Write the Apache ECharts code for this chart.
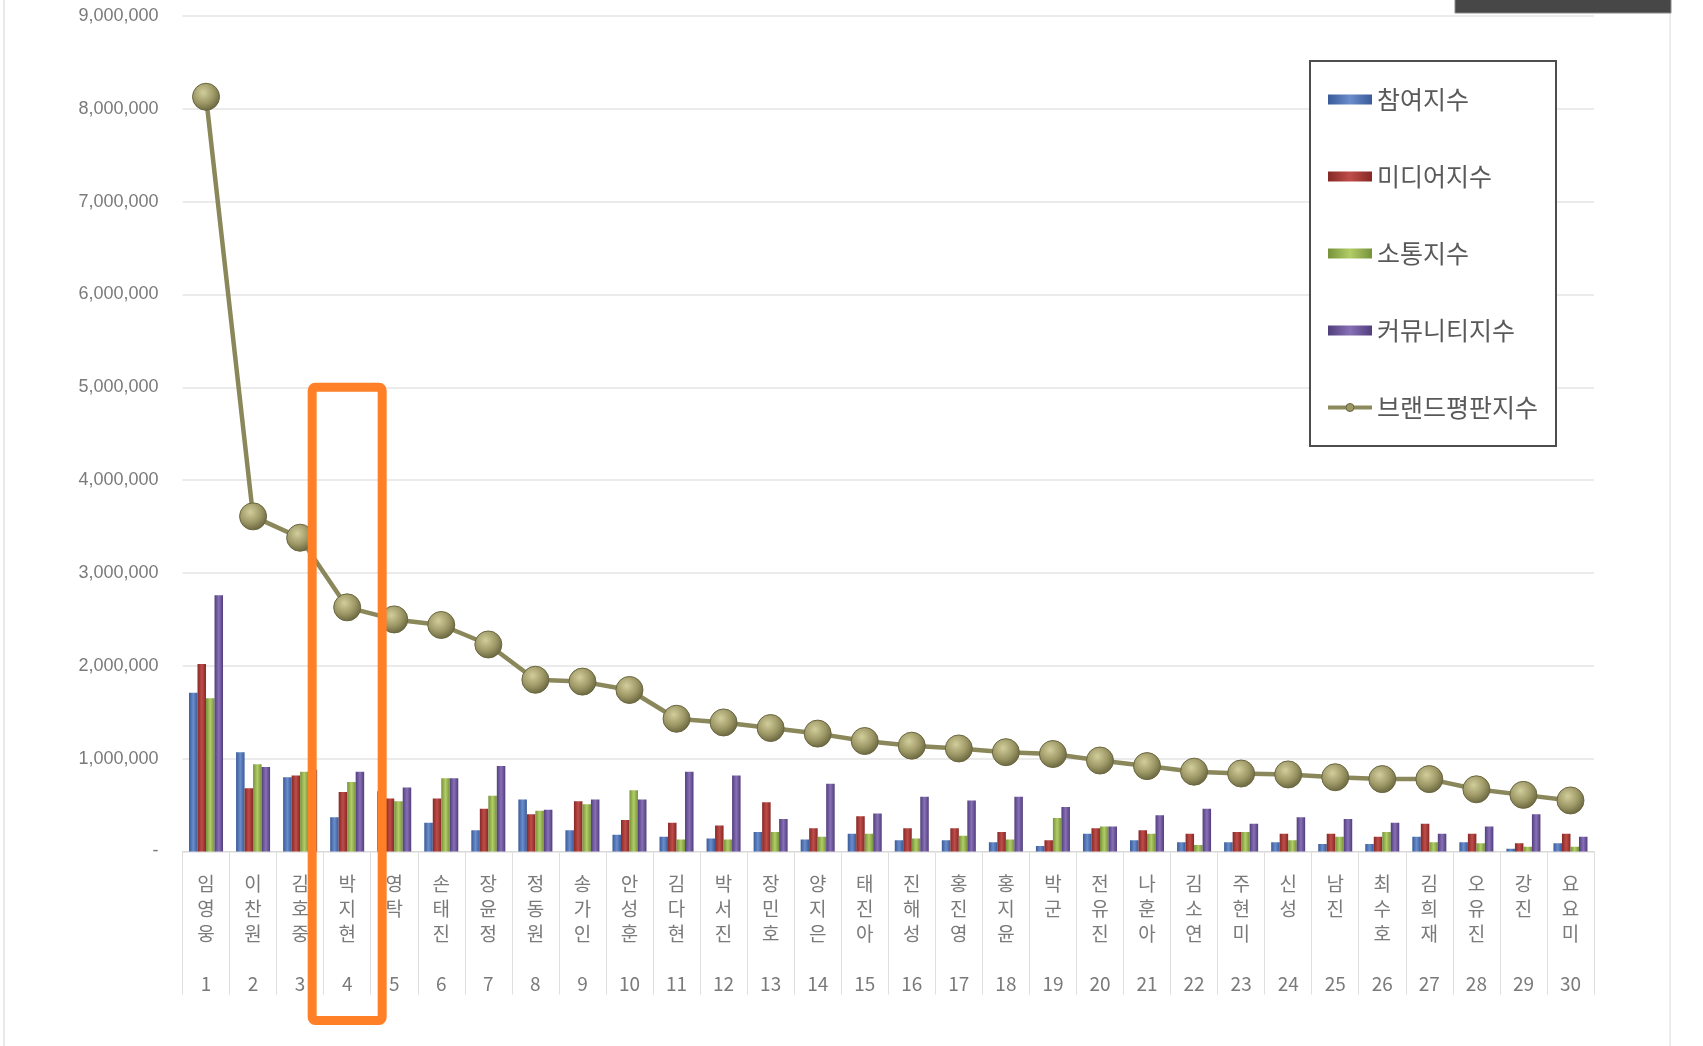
<!DOCTYPE html>
<html>
<head>
<meta charset="utf-8">
<script src="https://cdn.jsdelivr.net/npm/echarts@6/dist/echarts.min.js"></script>
<style>
html,body{margin:0;padding:0;background:#fff;}
#chart{width:1703px;height:1046px;}
</style>
</head>
<body>
<div id="chart"></div>
<script>
const names = ['임영웅','이찬원','김호중','박지현','영탁','손태진','장윤정','정동원','송가인','안성훈','김다현','박서진','장민호','양지은','태진아','진해성','홍진영','홍지윤','박군','전유진','나훈아','김소연','주현미','신성','남진','최수호','김희재','오유진','강진','요요미'];
const ranks = ['1','2','3','4','5','6','7','8','9','10','11','12','13','14','15','16','17','18','19','20','21','22','23','24','25','26','27','28','29','30'];
const seriesNames = ['참여지수','미디어지수','소통지수','커뮤니티지수','브랜드평판지수'];
const participation = [1710000,1070000,800000,370000,650000,310000,230000,560000,230000,180000,160000,140000,210000,130000,190000,120000,120000,100000,60000,190000,120000,100000,100000,100000,80000,80000,160000,100000,30000,90000];
const media = [2020000,680000,820000,640000,570000,570000,460000,400000,540000,340000,310000,280000,530000,250000,380000,250000,250000,210000,120000,250000,230000,190000,210000,190000,190000,160000,300000,190000,90000,190000];
const communication = [1650000,940000,860000,750000,540000,790000,600000,440000,510000,660000,130000,130000,210000,160000,190000,140000,170000,130000,360000,270000,190000,70000,210000,120000,160000,210000,100000,90000,50000,50000];
const community = [2760000,910000,880000,860000,690000,790000,920000,450000,560000,560000,860000,820000,350000,730000,410000,590000,550000,590000,480000,270000,390000,460000,300000,370000,350000,310000,190000,270000,400000,160000];
const brand = [8130000,3610000,3380000,2630000,2500000,2440000,2230000,1850000,1830000,1740000,1430000,1390000,1330000,1270000,1190000,1140000,1110000,1070000,1050000,980000,920000,860000,840000,830000,800000,780000,780000,670000,610000,550000];
const highlightIndex = 3;

function barGrad(edge, mid){
  return new echarts.graphic.LinearGradient(0,0,1,0,[
    {offset:0,color:edge},{offset:0.5,color:mid},{offset:1,color:edge}
  ]);
}
const KR = '"Noto Sans CJK KR","Noto Sans",sans-serif';
const markerFill = new echarts.graphic.RadialGradient(0.4,0.35,0.65,[
  {offset:0,color:'#d2ce9c'},{offset:0.6,color:'#9c9765'},{offset:1,color:'#6c6841'}
]);

const chart = echarts.init(document.getElementById('chart'), null, {renderer:'canvas'});
const barCommon = {type:'bar', barWidth:8.5, barGap:'0%'};
const option = {
  animation:false,
  backgroundColor:'#ffffff',
  grid:{left:182.5, right:109, top:16, bottom:194.5, containLabel:false},
  legend:{
    orient:'vertical', left:1310, top:61,
    padding:[26,18,26,16],
    borderColor:'#4d4d4d', borderWidth:2, backgroundColor:'#ffffff',
    itemWidth:44, itemHeight:10, itemGap:52,
    textStyle:{fontFamily:KR, fontSize:25, color:'#595959', lineHeight:23, padding:[0,0,0,0]},
    data:[
      {name:seriesNames[0], icon:'rect'},
      {name:seriesNames[1], icon:'rect'},
      {name:seriesNames[2], icon:'rect'},
      {name:seriesNames[3], icon:'rect'},
      {name:seriesNames[4], lineStyle:{width:4, color:'#8c895c'}, itemStyle:{color:'#9c9765', borderColor:'#6a6640', borderWidth:1}}
    ]
  },
  xAxis:{
    type:'category', data:names,
    axisLine:{show:true, lineStyle:{color:'#d9d9d9', width:1}},
    axisTick:{show:true, interval:0, length:143, lineStyle:{color:'#dedede', width:1}},
    axisLabel:{
      interval:0, margin:20, fontFamily:KR, fontSize:19, lineHeight:25, color:'#7a7a7a',
      formatter:function(v, i){
        const chars = v.split('');
        while(chars.length < 3) chars.push(' ');
        return chars.join('\n') + '\n \n' + ranks[i];
      }
    }
  },
  yAxis:{
    type:'value', min:0, max:9000000, interval:1000000,
    axisLine:{show:false}, axisTick:{show:false},
    splitLine:{lineStyle:{color:'#e4e4e4', width:1.5}},
    axisLabel:{
      margin:24, fontFamily:'"Liberation Sans",Arial,sans-serif', fontSize:18, color:'#7a7a7a',
      formatter:function(v){ return v === 0 ? '-' : v.toLocaleString('en-US'); }
    }
  },
  series:[
    Object.assign({name:seriesNames[0], data:participation, itemStyle:{color:barGrad('#3a5a98','#6a8dcc')}}, barCommon),
    Object.assign({name:seriesNames[1], data:media, itemStyle:{color:barGrad('#862826','#bf4d49')}}, barCommon),
    Object.assign({name:seriesNames[2], data:communication, itemStyle:{color:barGrad('#76923a','#b2cd66')}}, barCommon),
    Object.assign({name:seriesNames[3], data:community, itemStyle:{color:barGrad('#513e7c','#8870b6')}}, barCommon),
    {
      name:seriesNames[4], type:'line', data:brand, z:5,
      symbol:'circle', symbolSize:27,
      lineStyle:{color:'#8a875a', width:4.5},
      itemStyle:{color:markerFill, borderColor:'#6a6640', borderWidth:1}
    }
  ]
};
chart.setOption(option);

// annotation box around highlighted category and decorative frame
const cx = chart.convertToPixel({xAxisIndex:0}, highlightIndex);
const yTop = chart.convertToPixel({yAxisIndex:0}, 5000000);
const yZero = chart.convertToPixel({yAxisIndex:0}, 0);
chart.setOption({
  graphic:[
    {type:'line', shape:{x1:4, y1:0, x2:4, y2:1046}, style:{stroke:'#e9e9e9', lineWidth:2}, silent:true},
    {type:'line', shape:{x1:1670, y1:13, x2:1670, y2:1046}, style:{stroke:'#ececec', lineWidth:2}, silent:true},
    {type:'rect', shape:{x:1455, y:-2, width:216, height:15}, style:{fill:'#474747', stroke:'#8a8a8a', lineWidth:1}, silent:true},
    {type:'rect', z:100, shape:{x:cx-35, y:yTop, width:70, height:(yZero+169)-yTop, r:3},
     style:{fill:'none', stroke:'#ff8026', lineWidth:9}, silent:true}
  ]
});
</script>
</body>
</html>
